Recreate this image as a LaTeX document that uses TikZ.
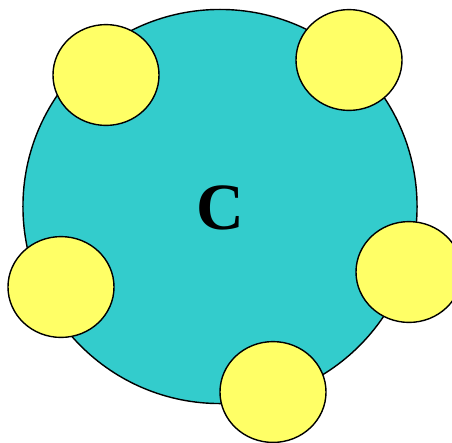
\documentclass[tikz,border=0pt]{standalone}
\usepackage{fontspec}
\setmainfont{Liberation Serif}
\usepackage{xcolor}
\usetikzlibrary{shapes.geometric}
\definecolor{cellcyan}{HTML}{33CCCC}
\definecolor{blobyellow}{HTML}{FFFF66}
\tikzset{cell/.style={circle,draw=black,line width=1pt,fill=cellcyan,minimum size=9.85cm,inner sep=0pt},
blob/.style={ellipse,draw=black,line width=1pt,fill=blobyellow,minimum width=2.65cm,minimum height=2.52cm,inner sep=0pt}}
\begin{document}
\begin{tikzpicture}[x=0.025cm,y=-0.025cm]
\useasboundingbox (0,0) rectangle (452,442);
\node[cell](c) at (220,206.5){};
\node[blob](b1) at (106,75){};
\node[blob](b2) at (349,60){};
\node[blob](b3) at (409,272){};
\node[blob](b4) at (61,287){};
\node[blob](b5) at (273,392){};
\node (lab) at (220,208){\fontsize{47}{47}\selectfont\bfseries C};
\end{tikzpicture}
\end{document}
